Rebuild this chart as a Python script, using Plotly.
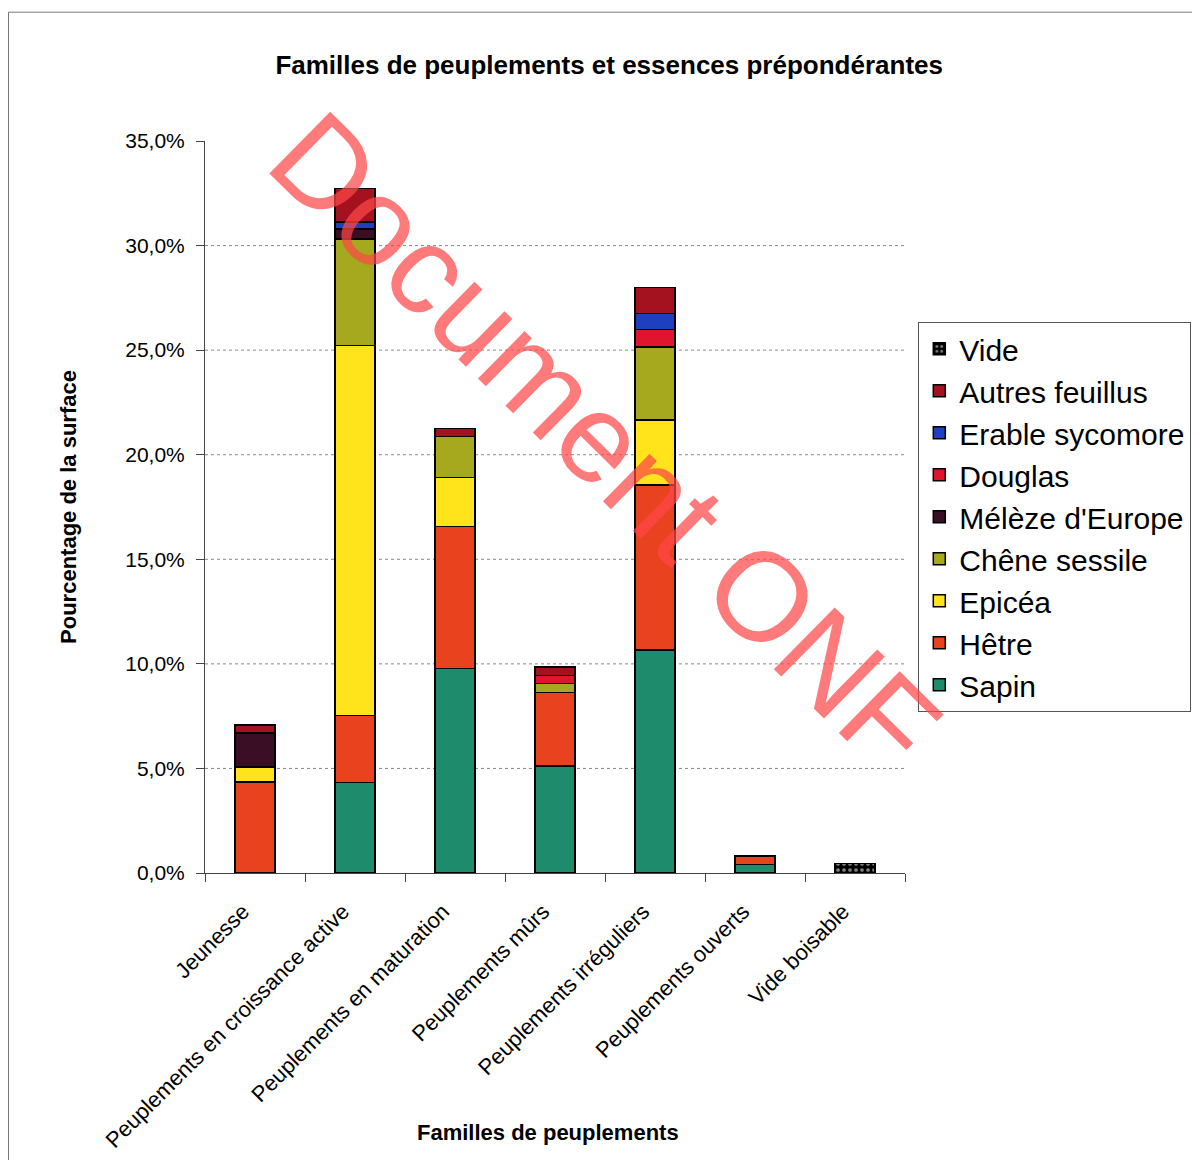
import plotly.graph_objects as go

categories = ["Jeunesse", "Peuplements en croissance active", "Peuplements en maturation",
              "Peuplements mûrs", "Peuplements irréguliers", "Peuplements ouverts", "Vide boisable"]

sapin = [0.0, 4.32, 9.79, 5.12, 10.66, 0.40, 0.0]
hetre = [4.35, 3.20, 6.77, 3.50, 7.89, 0.42, 0.0]
epicea = [0.72, 17.70, 2.36, 0.0, 3.11, 0.0, 0.0]
chene = [0.0, 5.10, 1.94, 0.43, 3.50, 0.0, 0.0]
meleze = [1.63, 0.48, 0.0, 0.0, 0.0, 0.0, 0.0]
douglas = [0.0, 0.0, 0.0, 0.40, 0.83, 0.0, 0.0]
erable = [0.0, 0.33, 0.0, 0.0, 0.77, 0.0, 0.0]
autres = [0.38, 1.60, 0.40, 0.40, 1.24, 0.0, 0.0]
vide = [0.0, 0.0, 0.0, 0.0, 0.0, 0.0, 0.46]

y_ticks = [0, 5, 10, 15, 20, 25, 30, 35]
y_tick_labels = ["0,0%", "5,0%", "10,0%", "15,0%", "20,0%", "25,0%", "30,0%", "35,0%"]

series = [
    ("Sapin", sapin, "#1E8C6C"),
    ("Hêtre", hetre, "#E8421E"),
    ("Epicéa", epicea, "#FFE41C"),
    ("Chêne sessile", chene, "#A6A81E"),
    ("Mélèze d'Europe", meleze, "#3A0E24"),
    ("Douglas", douglas, "#E0142C"),
    ("Erable sycomore", erable, "#1E40BE"),
    ("Autres feuillus", autres, "#A3121E"),
]

fig = go.Figure()
for name, vals, col in series:
    fig.add_trace(go.Bar(x=categories, y=vals, name=name,
                         marker=dict(color=col, line=dict(color="black", width=1.5))))
fig.add_trace(go.Bar(x=categories, y=vide, name="Vide",
                     marker=dict(color="black", line=dict(color="black", width=1.5),
                                 pattern=dict(shape=".", fgcolor="white", bgcolor="black",
                                              size=6, solidity=0.3))))

font_family = "Liberation Sans, Arial, sans-serif"

shapes = []
for t in y_ticks[1:-1]:
    shapes.append(dict(type="line", xref="paper", yref="y", x0=0, x1=1, y0=t, y1=t,
                       line=dict(color="#888888", width=1, dash="dot"), layer="below"))
# outer frame
shapes.append(dict(type="rect", xref="paper", yref="paper", x0=-0.2807, x1=1.43, y0=-0.45, y1=1.176,
                   line=dict(color="#777777", width=1)))

fig.update_layout(
    width=1200, height=1160,
    barmode="stack", bargap=0.6,
    paper_bgcolor="white", plot_bgcolor="white",
    margin=dict(l=197, r=303, t=133, b=295),
    font=dict(family=font_family, color="black"),
    title=dict(text="<b>Familles de peuplements et essences prépondérantes</b>",
               x=0.501, xanchor="center", y=1 - 57 / 1160, yanchor="middle",
               font=dict(size=26, color="black")),
    xaxis=dict(type="category", tickangle=-45, tickfont=dict(size=22),
               showline=True, linecolor="#444444", linewidth=1,
               ticks="outside", ticklen=8, tickcolor="#444444", tickson="boundaries",
               ticklabelstandoff=16, ticklabelshift=-12,
               showgrid=False),
    yaxis=dict(range=[0, 35], tickvals=y_ticks, ticktext=y_tick_labels,
               tickfont=dict(size=21), showline=True, linecolor="#444444", linewidth=1,
               ticks="outside", ticklen=8, tickcolor="#444444", showgrid=False, zeroline=False,
               ticklabelstandoff=7,
               title=dict(text="<b>Pourcentage de la surface</b>", font=dict(size=22), standoff=42)),
    legend=dict(x=1.019, y=0.753, xanchor="left", yanchor="top", traceorder="reversed",
                font=dict(size=30), bordercolor="#555555", borderwidth=1,
                bgcolor="white", itemwidth=30),
    shapes=shapes,
    showlegend=True,
)

fig.add_annotation(text="<b>Familles de peuplements</b>", xref="paper", yref="paper",
                   x=0.49, y=-0.355, showarrow=False, xanchor="center", yanchor="middle",
                   font=dict(size=22, color="black"))

fig.add_annotation(text="Document ONF", xref="paper", yref="paper", x=0.57, y=0.589,
                   showarrow=False, textangle=44.5,
                   font=dict(size=126, color="rgba(255,70,70,0.72)", family=font_family))

fig.write_html("out.html")
